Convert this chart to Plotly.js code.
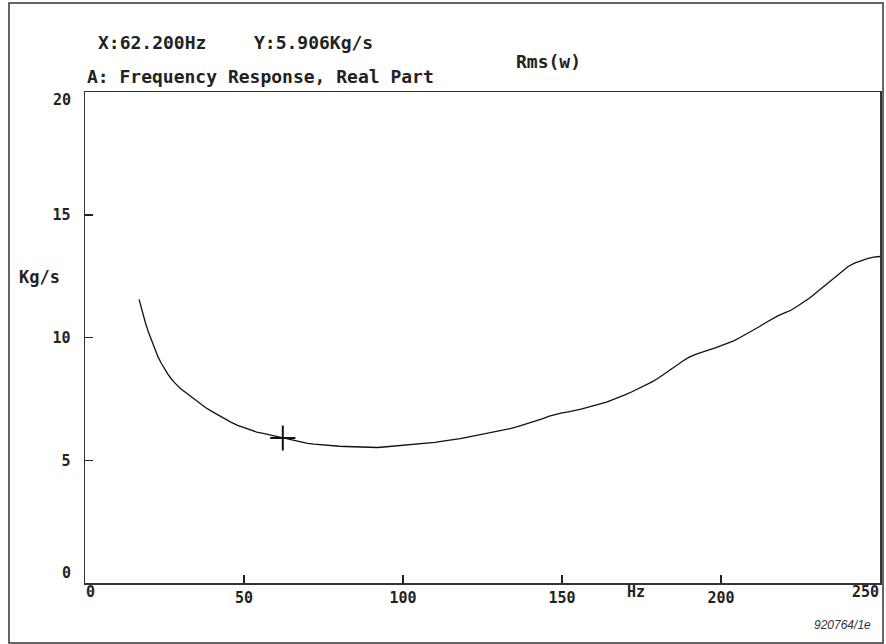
<!DOCTYPE html>
<html>
<head>
<meta charset="utf-8">
<script src="https://cdn.plot.ly/plotly-3.0.1.min.js"></script>
<style>html,body{margin:0;padding:0;background:#fff;}#chart{width:886px;height:644px;}</style>
</head>
<body>
<div id="chart"></div>
<script>
// Frequency (Hz)
const freq = [17,18,19,20,21,22,23,24,25,26,27,28,30,32,34,36,38,40,42,44,46,48,50,52,54,56,58,60,62.2,64,66,68,70,72,74,76,78,80,82,84,86,88,90,92,94,96,98,100,102,104,106,108,110,112,114,116,118,120,122,124,126,128,130,132,134,136,138,140,142,144,146,148,150,152,154,156,158,160,162,164,166,168,170,172,174,176,178,180,182,184,186,188,190,192,194,196,198,200,202,204,206,208,210,212,214,216,218,220,222,224,226,228,230,232,234,236,238,240,242,244,246,248,250];
// Real part (Kg/s)
const realPart = [11.55,11.05,10.6,10.2,9.85,9.5,9.2,8.95,8.72,8.52,8.34,8.18,7.92,7.72,7.52,7.32,7.14,6.98,6.83,6.68,6.54,6.42,6.32,6.23,6.15,6.09,6.03,5.96,5.906,5.86,5.80,5.74,5.69,5.66,5.63,5.60,5.58,5.57,5.56,5.55,5.54,5.52,5.51,5.52,5.54,5.56,5.59,5.61,5.63,5.65,5.67,5.70,5.73,5.77,5.80,5.84,5.88,5.93,5.98,6.03,6.07,6.12,6.19,6.25,6.30,6.37,6.45,6.52,6.60,6.70,6.80,6.87,6.93,6.97,7.01,7.08,7.15,7.22,7.29,7.37,7.47,7.56,7.67,7.79,7.91,8.04,8.17,8.32,8.49,8.67,8.86,9.04,9.20,9.31,9.41,9.49,9.57,9.67,9.77,9.86,10.00,10.14,10.28,10.44,10.60,10.76,10.89,11.00,11.11,11.27,11.44,11.62,11.83,12.05,12.27,12.49,12.70,12.89,13.03,13.13,13.21,13.27,13.30];
const cursorX = [62.2];
const cursorY = [5.906];
const xTicks = [0,50,100,150,200,250];
const xTickText = ['','50','100','150','200',''];
const yTicks = [0,5,10,15,20];
const yTickText = ['','5','10','15',''];

const mono = 'DejaVu Sans Mono, Liberation Mono, monospace';
const tickFont = {family: mono, size: 15, color: '#222', weight: 'bold'};
const textFont = {family: mono, size: 18, color: '#222', weight: 'bold'};

const traces = [
  {x: freq, y: realPart, type: 'scatter', mode: 'lines',
   line: {color: '#111', width: 1.3}, hoverinfo: 'skip'},
  {x: cursorX, y: cursorY, type: 'scatter', mode: 'markers',
   marker: {symbol: 'cross-thin-open', size: 18, color: '#111', line: {color: '#111', width: 2}}, hoverinfo: 'skip'}
];

function ann(text, x, y, xanchor, font, extra) {
  return Object.assign({text, x, y, xref: 'paper', yref: 'paper', xanchor, yanchor: 'middle',
    showarrow: false, font, borderpad: 0}, extra || {});
}

const layout = {
  width: 886, height: 644,
  margin: {l: 85, r: 6, t: 92, b: 61},
  paper_bgcolor: '#fff', plot_bgcolor: '#fff',
  showlegend: false,
  xaxis: {range: [0, 250], tickvals: xTicks, ticktext: xTickText,
    ticks: 'inside', ticklen: 8, tickwidth: 1.5, tickcolor: '#222',
    showline: true, linecolor: '#333', linewidth: 1.5, mirror: true,
    showgrid: false, zeroline: false, tickfont: tickFont, fixedrange: true},
  yaxis: {range: [0, 20], tickvals: yTicks, ticktext: yTickText,
    ticks: 'inside', ticklen: 8, tickwidth: 1.5, tickcolor: '#222',
    showline: true, linecolor: '#333', linewidth: 1.5, mirror: true,
    showgrid: false, zeroline: false, tickfont: tickFont, ticklabelstandoff: 10, fixedrange: true},
  annotations: [
    ann('X:62.200Hz', 0.0151, 1.0998, 'left', textFont),
    ann('Y:5.906Kg/s', 0.2113, 1.0998, 'left', textFont),
    ann('Rms(w)', 0.5409, 1.0611, 'left', textFont),
    ann('A: Frequency Response, Real Part', 0.0013, 1.0306, 'left', textFont),
    ann('Kg/s', -0.0843, 0.6232, 'left', {family: mono, size: 17, color: '#222', weight: 'bold'}),
    ann('Hz', 0.6931, -0.0183, 'center', tickFont),
    ann('0', 0.0, -0.0183, 'left', tickFont),
    ann('250', 1.0, -0.0183, 'right', tickFont),
    ann('0', -0.0164, 0.0204, 'right', tickFont),
    ann('20', -0.0164, 0.9837, 'right', tickFont),
    ann('920764/1e', 0.99, -0.0855, 'right', {family: 'Liberation Sans, Arial, sans-serif', size: 12, color: '#333', style: 'italic'})
  ],
  shapes: [
    {type: 'rect', xref: 'paper', yref: 'paper', x0: -0.0956, x1: 1.0038, y0: -0.1222, y1: 1.1813,
     line: {color: '#333', width: 1.5}}
  ]
};

Plotly.newPlot('chart', traces, layout, {displayModeBar: false, staticPlot: true});
</script>
</body>
</html>
